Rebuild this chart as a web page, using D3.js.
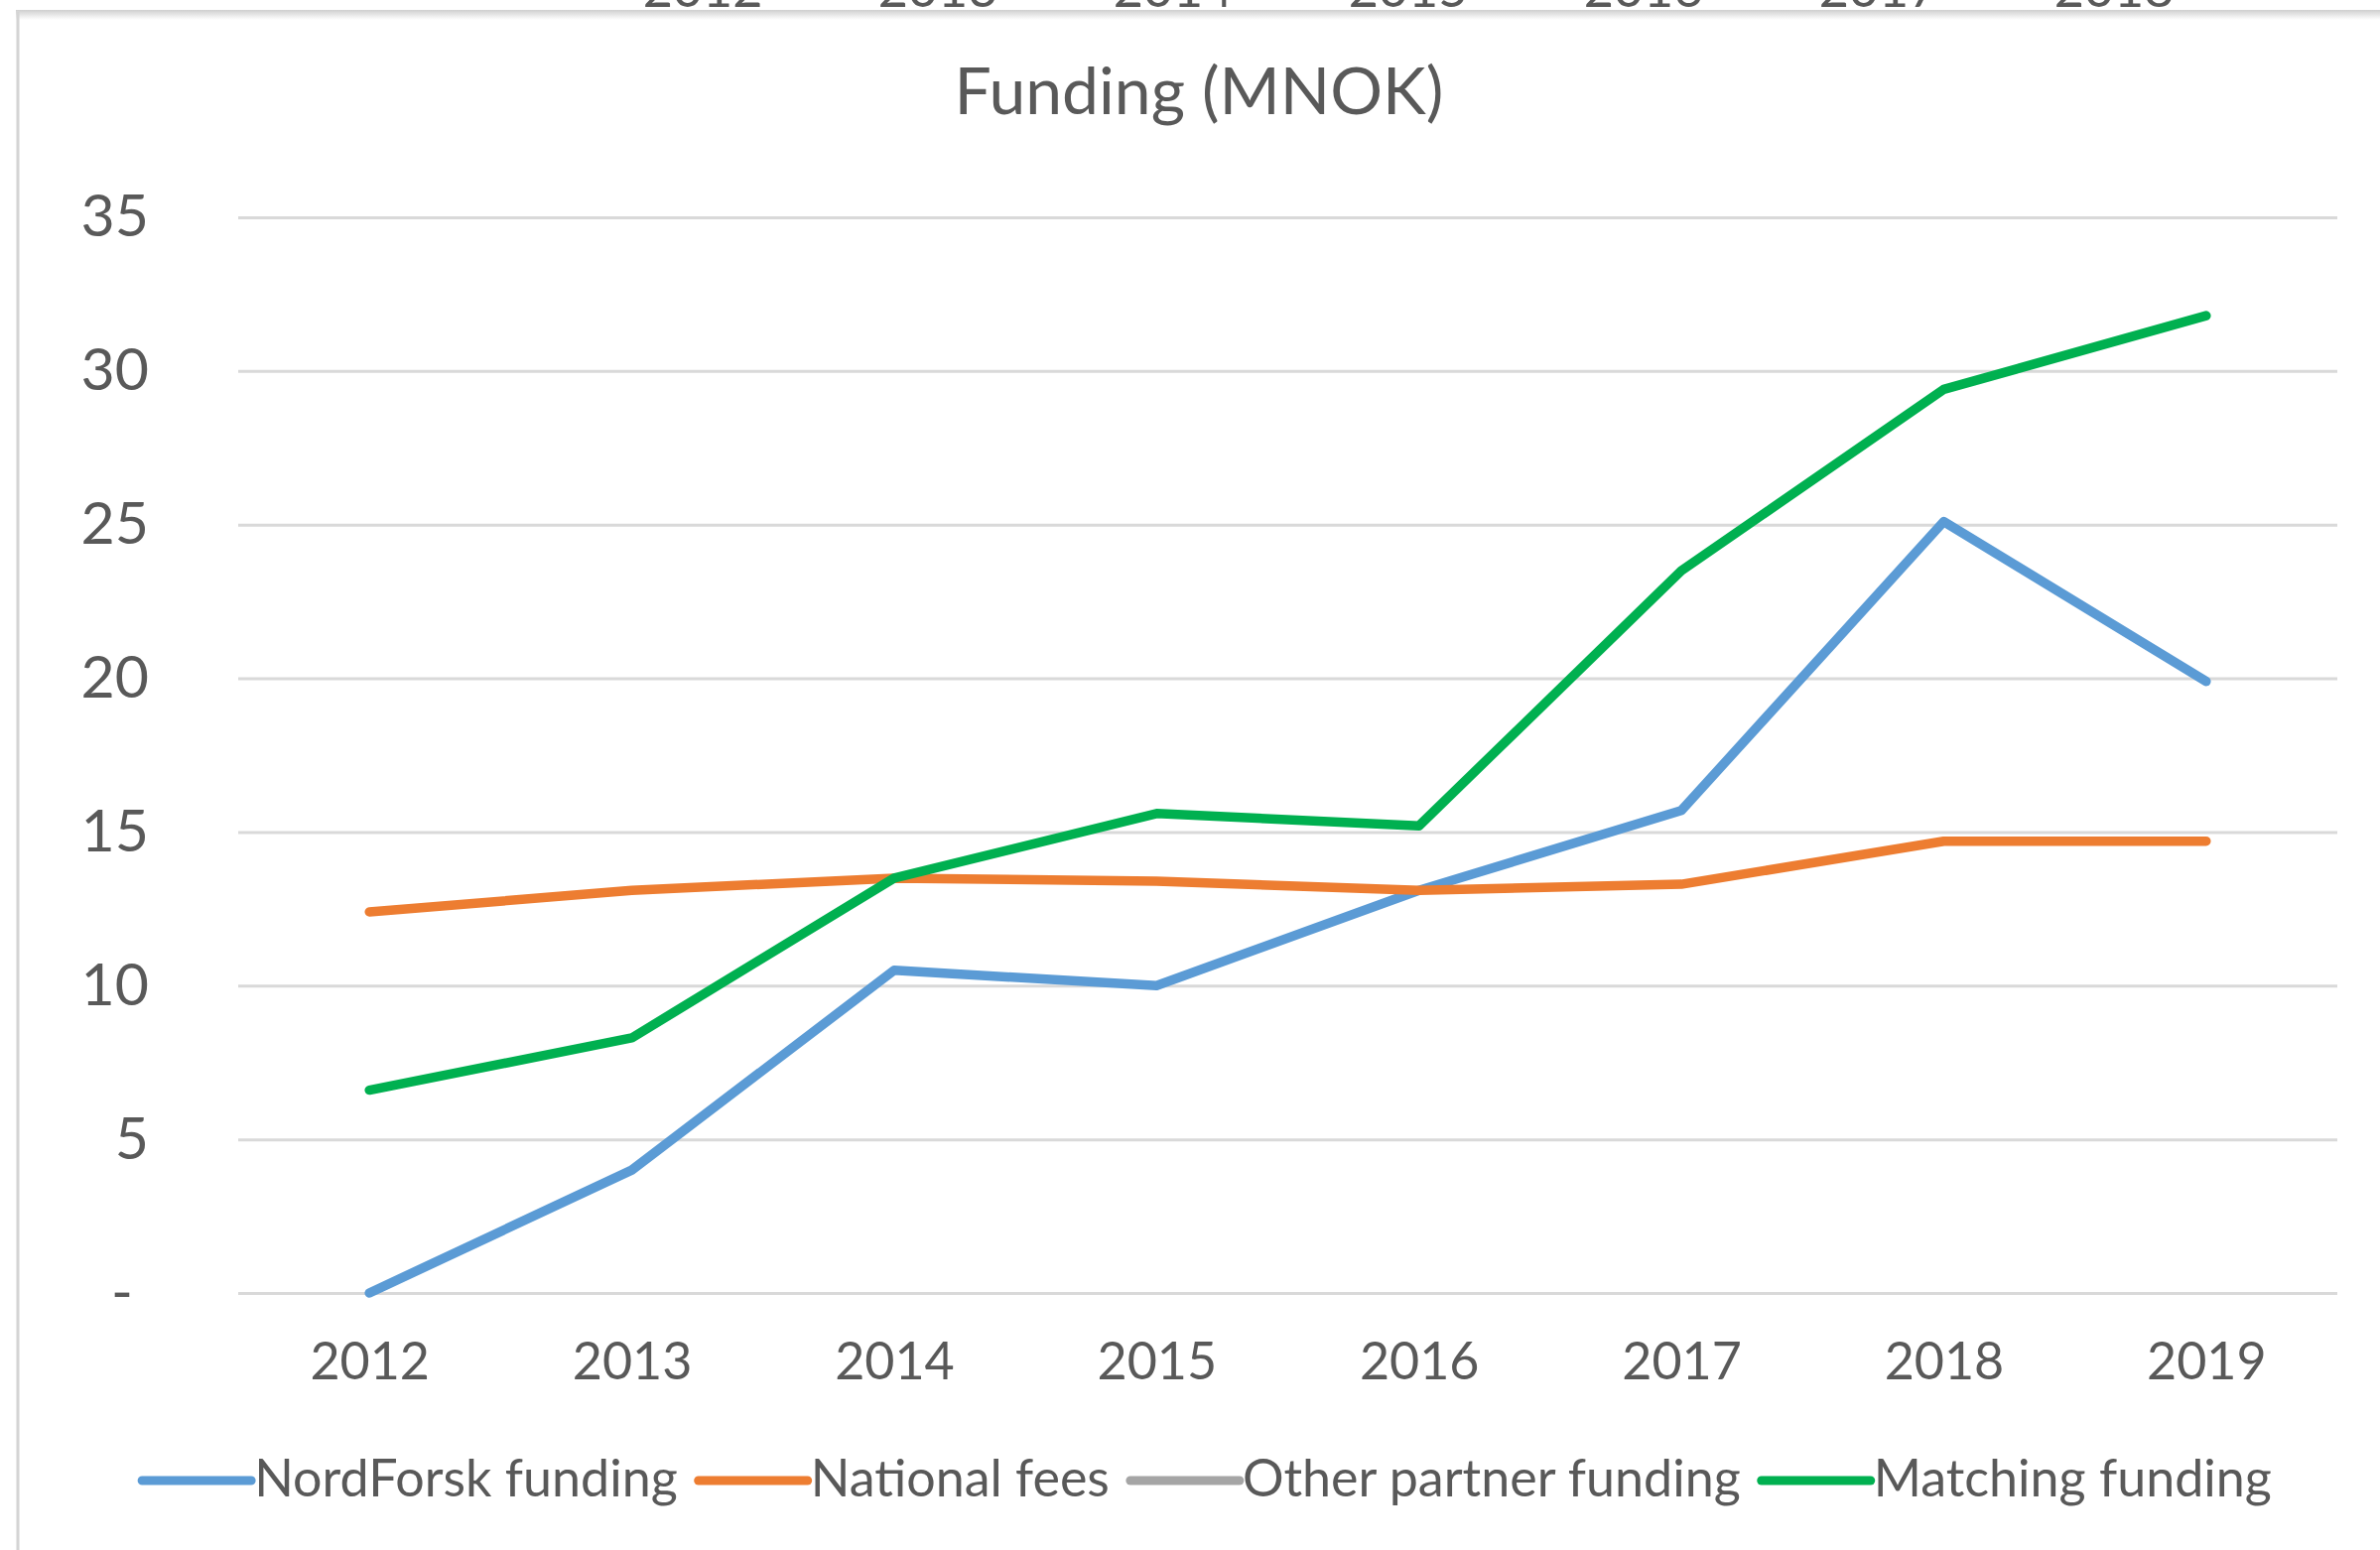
<!DOCTYPE html>
<html>
<head>
<meta charset="utf-8">
<script src="https://cdn.jsdelivr.net/npm/d3@7"></script>
<style>
  html, body { margin: 0; padding: 0; background: #fff; }
  svg { display: block; }
  text { font-family: Lato, Carlito, "Noto Sans", sans-serif; fill: #595959; }
</style>
</head>
<body>
<div id="chart"></div>
<script>
// ── Data ────────────────────────────────────────────────────────────────
const years        = ['2012', '2013', '2014', '2015', '2016', '2017', '2018', '2019'];
const nordforsk    = [0, 4.0, 10.5, 10.0, 13.1, 15.7, 25.1, 19.9];
const nationalFees = [12.4, 13.1, 13.5, 13.4, 13.1, 13.3, 14.7, 14.7];
const otherPartner = [null, null, null, null, null, null, null, null];
const matching     = [6.6, 8.3, 13.5, 15.6, 15.2, 23.5, 29.4, 31.8];
const yTicks       = [0, 5, 10, 15, 20, 25, 30, 35];
const cutYears     = ['2012', '2013', '2014', '2015', '2016', '2017', '2018'];

const series = [
  { name: 'NordForsk funding',     color: '#5B9BD5', values: nordforsk },
  { name: 'National fees',         color: '#ED7D31', values: nationalFees },
  { name: 'Other partner funding', color: '#A5A5A5', values: otherPartner },
  { name: 'Matching funding',      color: '#00B050', values: matching }
];

const W = 2398, H = 1562;
const M = { top: 219, right: 43, bottom: 259, left: 240 };

const svg = d3.select('#chart').append('svg').attr('width', W).attr('height', H);

// ── Frame remnants of the screenshot ────────────────────────────────────
const grad = svg.append('defs').append('linearGradient')
  .attr('id', 'topShade').attr('x1', 0).attr('x2', 0).attr('y1', 0).attr('y2', 1);
grad.append('stop').attr('offset', '0%').attr('stop-color', '#cfcfcf');
grad.append('stop').attr('offset', '100%').attr('stop-color', '#ffffff');
svg.append('rect').attr('x', 16).attr('y', 10).attr('width', W - 16).attr('height', 10)
  .attr('fill', 'url(#topShade)');
svg.append('line').attr('x1', 18).attr('x2', 18).attr('y1', 12).attr('y2', H)
  .attr('stroke', '#d4d4d4').attr('stroke-width', 3);

// cut-off axis labels of the chart above (the reference shows only their feet)
svg.append('g').selectAll('text').data(cutYears).join('text')
  .attr('x', (d, i) => 708 + i * 237).attr('y', 7)
  .attr('text-anchor', 'middle').attr('font-size', 52)
  .text(d => d);

// ── Scales ──────────────────────────────────────────────────────────────
const x = d3.scalePoint().domain(years).range([M.left, W - M.right]).padding(0.5);
const y = d3.scaleLinear().domain([0, 35]).range([H - M.bottom, M.top]);

// ── Title ───────────────────────────────────────────────────────────────
svg.append('text')
  .attr('x', 1208).attr('y', 115)
  .attr('text-anchor', 'middle').attr('font-size', 66)
  .text('Funding (MNOK)');

// ── Gridlines + Y axis ──────────────────────────────────────────────────
svg.append('g')
  .attr('transform', `translate(${M.left},0)`)
  .call(d3.axisLeft(y).tickValues(yTicks).tickSize(-(W - M.left - M.right)).tickPadding(90)
    .tickFormat(d => d === 0 ? '-' : d))
  .call(a => a.select('.domain').remove())
  .call(a => a.selectAll('.tick line').attr('stroke', '#D9D9D9').attr('stroke-width', 3))
  .call(a => a.selectAll('.tick text')
    .attr('fill', '#595959').attr('font-size', 59)
    .attr('font-family', 'Lato, sans-serif')
    .attr('dx', d => d === 0 ? -16 : 0));

// ── X axis labels ───────────────────────────────────────────────────────
svg.append('g')
  .attr('transform', `translate(0,${H - M.bottom})`)
  .call(d3.axisBottom(x).tickSize(0).tickPadding(50))
  .call(a => a.select('.domain').remove())
  .call(a => a.selectAll('.tick text')
    .attr('fill', '#595959').attr('font-size', 52)
    .attr('font-family', 'Lato, sans-serif'));

// ── Lines ───────────────────────────────────────────────────────────────
const line = d3.line()
  .defined(d => d.v != null)
  .x(d => x(d.year))
  .y(d => y(d.v));

svg.append('g').selectAll('path').data(series).join('path')
  .attr('d', s => line(years.map((yr, i) => ({ year: yr, v: s.values[i] }))) || null)
  .attr('fill', 'none')
  .attr('stroke', s => s.color)
  .attr('stroke-width', 9.5)
  .attr('stroke-linejoin', 'round')
  .attr('stroke-linecap', 'round');

// ── Legend ──────────────────────────────────────────────────────────────
const LEG_Y = 1492, SW = 110, GAP_TXT = 3, GAP_ITEM = 21;
const legend = svg.append('g');
let cx = 0;
series.forEach(s => {
  const it = legend.append('g').attr('transform', `translate(${cx},0)`);
  it.append('line')
    .attr('x1', 0).attr('x2', SW).attr('y1', LEG_Y).attr('y2', LEG_Y)
    .attr('stroke', s.color).attr('stroke-width', 9).attr('stroke-linecap', 'round');
  const t = it.append('text')
    .attr('x', SW + GAP_TXT).attr('y', LEG_Y + 16)
    .attr('font-size', 52)
    .text(s.name);
  cx += SW + GAP_TXT + t.node().getComputedTextLength() + GAP_ITEM;
});
const legW = cx - GAP_ITEM;
legend.attr('transform', `translate(${1216 - legW / 2},0)`);
</script>
</body>
</html>
